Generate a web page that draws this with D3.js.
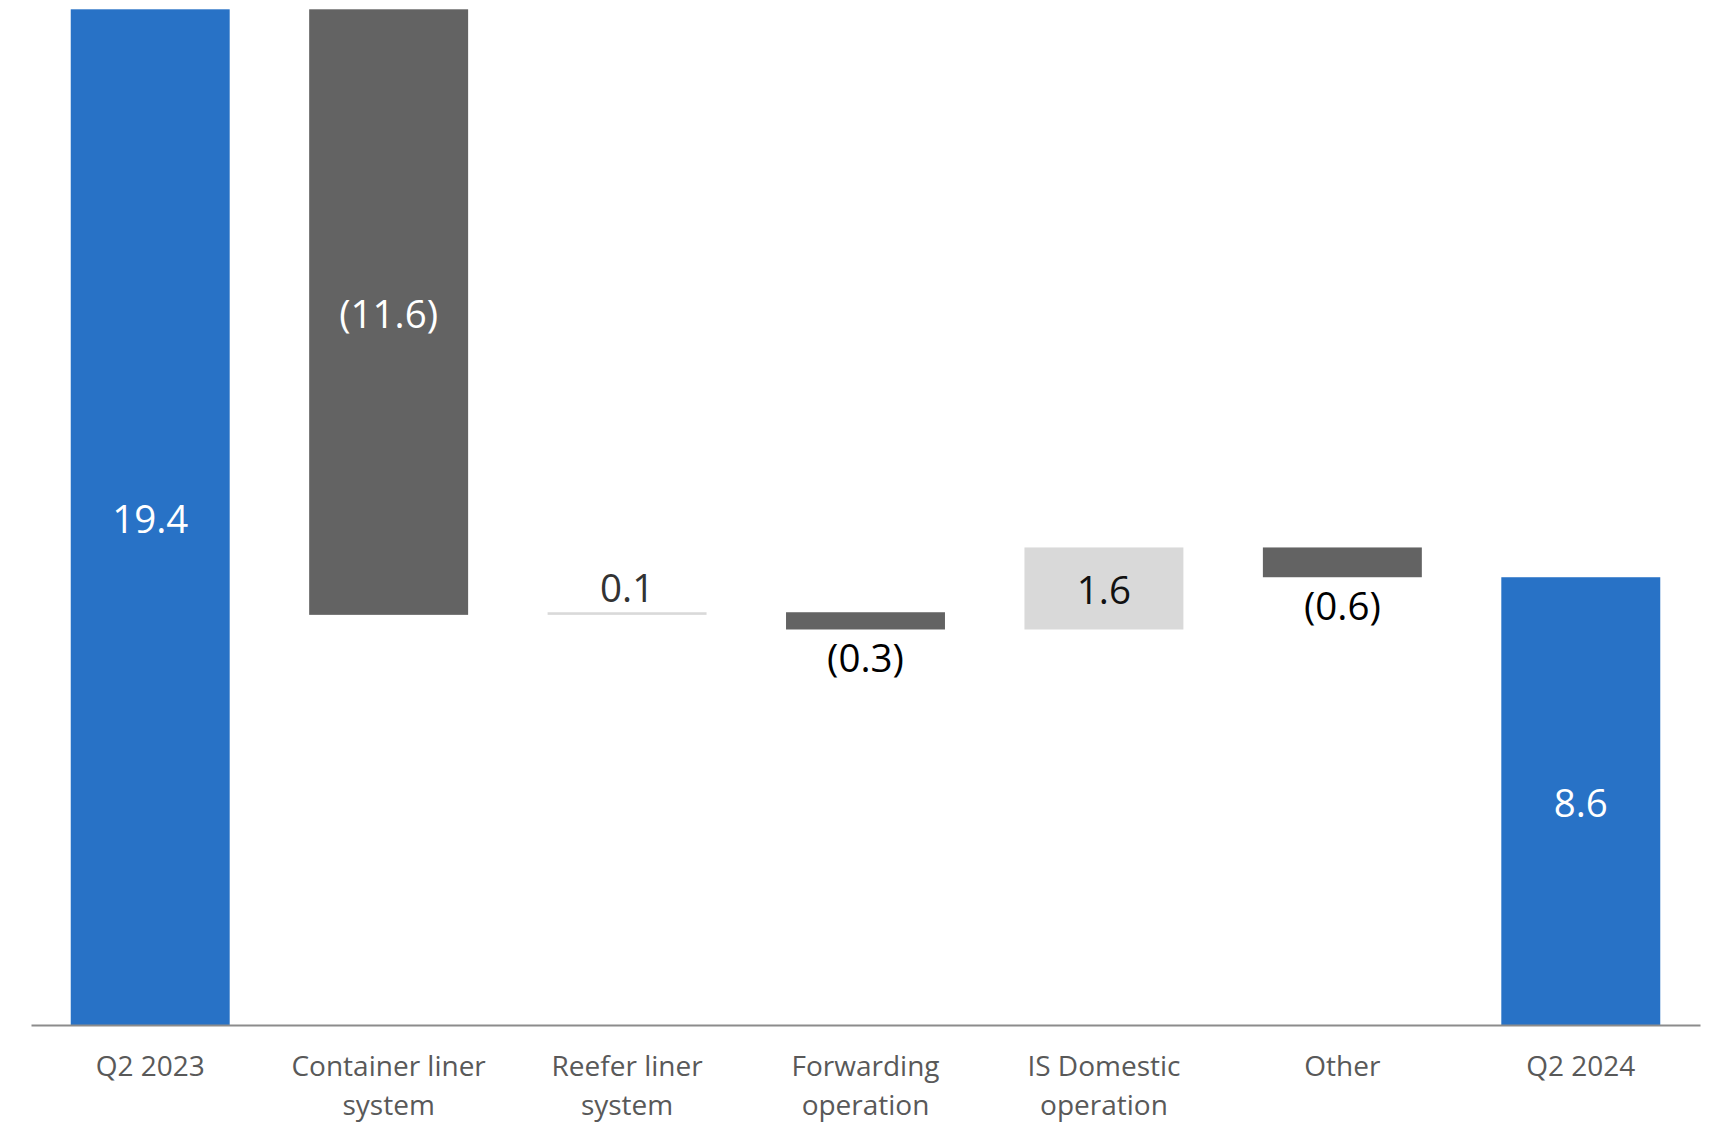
<!DOCTYPE html>
<html>
<head>
<meta charset="utf-8">
<script src="https://cdn.jsdelivr.net/npm/d3@7"></script>
<style>
  html, body { margin: 0; padding: 0; background: #ffffff; }
  svg { display: block; }
</style>
</head>
<body>
<svg id="chart" width="1718" height="1128"></svg>
<script>
// ---- data ----
const categories = [
  ["Q2 2023"],
  ["Container liner", "system"],
  ["Reefer liner", "system"],
  ["Forwarding", "operation"],
  ["IS Domestic", "operation"],
  ["Other"],
  ["Q2 2024"]
];
// values estimated from the bar extents (labels show the rounded figures)
const values = [19.44, -11.59, 0.05, -0.33, 1.57, -0.57, 8.57];
const kinds = ["total", "delta", "delta", "delta", "delta", "delta", "total"];
const valueLabels = ["19.4", "(11.6)", "0.1", "(0.3)", "1.6", "(0.6)", "8.6"];

// ---- build waterfall rows ----
let running = 0;
const rows = values.map((v, i) => {
  let y0, y1;
  if (kinds[i] === "total") { y0 = 0; y1 = v; running = v; }
  else { y0 = running; y1 = running + v; running = y1; }
  return { i, key: categories[i].join(" "), lines: categories[i], v, kind: kinds[i],
           lo: Math.min(y0, y1), hi: Math.max(y0, y1), label: valueLabels[i] };
});

const svg = d3.select("#chart");
const font = "'Open Sans', 'Noto Sans', sans-serif";

const x = d3.scaleBand()
  .domain(rows.map(d => d.key))
  .range([31, 1700])
  .paddingInner(1/3)
  .paddingOuter(1/6);

const y = d3.scaleLinear().domain([0, 19.44]).range([1025, 9.3]);

const colorOf = d => d.kind === "total" ? "#2872C6" : (d.v < 0 ? "#636363" : "#D9D9D9");

// bars
svg.append("g").selectAll("rect").data(rows).join("rect")
  .attr("x", d => x(d.key))
  .attr("width", x.bandwidth())
  .attr("y", d => y(d.hi))
  .attr("height", d => Math.max(2.5, y(d.lo) - y(d.hi)))
  .attr("fill", colorOf);

// axis (baseline + category labels)
const axis = d3.axisBottom(x).tickSize(0).tickFormat("");
const gAxis = svg.append("g").attr("transform", `translate(0,${y(0)})`).call(axis);
gAxis.select(".domain").attr("stroke", "#8c8c8c").attr("stroke-width", 2);
gAxis.selectAll(".tick").each(function(d, i) {
  const t = d3.select(this).append("text")
    .attr("fill", "#595959")
    .attr("font-family", font)
    .attr("font-size", 28)
    .attr("text-anchor", "middle");
  rows[i].lines.forEach((ln, k) => {
    t.append("tspan").attr("x", 0).attr("y", 51 + k * 39).text(ln);
  });
});

// value labels
const inside = d => (y(d.lo) - y(d.hi)) > 60;
svg.append("g").selectAll("text").data(rows).join("text")
  .attr("x", d => x(d.key) + x.bandwidth() / 2)
  .attr("y", d => {
    if (inside(d)) return (y(d.lo) + y(d.hi)) / 2 + 2;
    return d.v >= 0 ? y(d.hi) - 24 : y(d.lo) + 29.5;
  })
  .attr("dy", "0.35em")
  .attr("text-anchor", "middle")
  .attr("font-family", font)
  .attr("font-size", 38.5)
  .attr("fill", d => {
    if (inside(d)) return (d.kind === "total" || d.v < 0) ? "#ffffff" : "#111111";
    return d.v >= 0 ? "#333333" : "#000000";
  })
  .text(d => d.label);
</script>
</body>
</html>
